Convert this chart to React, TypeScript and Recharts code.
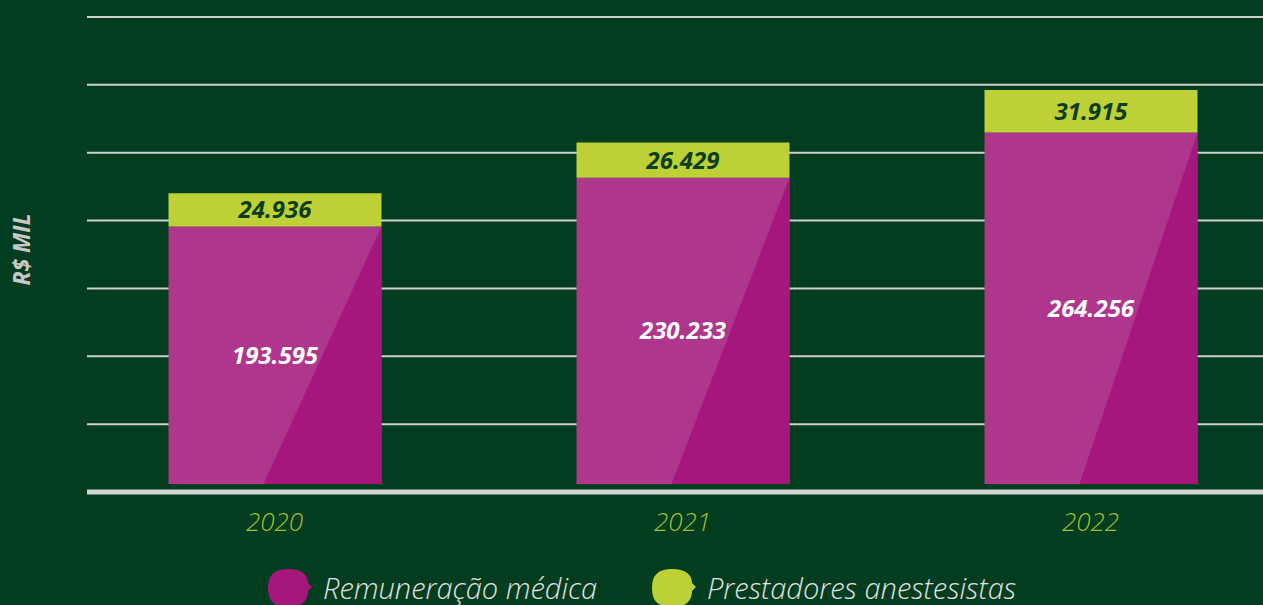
import { BarChart, Bar, XAxis, YAxis, CartesianGrid, LabelList } from 'recharts';

const years = ['2020', '2021', '2022'];
const remuneracao = [193.595, 230.233, 264.256];
const prestadores = [24.936, 26.429, 31.915];
const gridTicks = [-6, 45, 96, 147, 198, 249, 300, 351];

const BG = '#013d1e';
const PURPLE = '#ae368c';
const PURPLE_DARK = '#a6177e';
const LIME = '#bdd035';
const FONT = '"Open Sans", "Noto Sans", sans-serif';

const data = years.map((year, i) => ({
  year,
  remuneracao: remuneracao[i],
  prestadores: prestadores[i],
}));

const fmt = (v: number) => v.toFixed(3);

function PurpleShape(props: any) {
  const { x, y, width, height } = props;
  if (!height || height <= 0) return null;
  const bottom = y + height;
  return (
    <g>
      <rect x={x} y={y} width={width} height={height} fill={PURPLE} />
      <polygon
        points={`${x + width * 0.446},${bottom} ${x + width},${y} ${x + width},${bottom}`}
        fill={PURPLE_DARK}
      />
    </g>
  );
}

function AxisTitle(props: any) {
  const vb = props.viewBox || { x: 0, y: 17, width: 87, height: 475 };
  const cx = 30;
  const cy = vb.y + vb.height / 2 - 5;
  return (
    <text
      x={cx}
      y={cy}
      transform={`rotate(-90, ${cx}, ${cy})`}
      textAnchor="middle"
      fill="#c8c8c8"
      fontSize={23}
      fontWeight={700}
      fontStyle="italic"
      fontFamily={FONT}
    >
      R$ MIL
    </text>
  );
}

function Blob({ color }: { color: string }) {
  return (
    <svg width={46} height={40} style={{ display: 'block' }}>
      <path
        d="M20 2 C34 2 40 8 40 16 L44 20 L40 24 C40 34 34 40 20 40 C6 40 0 34 0 21 C0 8 6 2 20 2 Z"
        fill={color}
      />
    </svg>
  );
}

export default function App() {
  return (
    <div
      style={{
        position: 'fixed', left: 0, top: 0, width: 1263, height: 605,
        background: BG, overflow: 'hidden', fontFamily: FONT,
      }}
    >
      <BarChart
        width={1263}
        height={560}
        data={data}
        margin={{ top: 17, right: 0, left: 0, bottom: 0 }}
        barSize={213}
      >
        <CartesianGrid vertical={false} stroke="#d0d0d0" strokeWidth={2} />
        <YAxis
          width={87}
          domain={[-6, 351]}
          ticks={gridTicks}
          interval={0}
          tick={() => <g />}
          axisLine={false}
          tickLine={false}
          label={<AxisTitle />}
        />
        <XAxis
          dataKey="year"
          height={68}
          padding={{ left: -16.5, right: -31.5 }}
          axisLine={{ stroke: '#d4d4d4', strokeWidth: 5 }}
          tickLine={false}
          tick={{ fill: '#a3bf2c', fontSize: 26, fontStyle: 'italic', fontWeight: 300, fontFamily: FONT }}
          tickMargin={15}
        />
        <Bar dataKey="remuneracao" stackId="a" shape={PurpleShape} isAnimationActive={false}>
          <LabelList
            dataKey="remuneracao"
            position="center"
            formatter={(v: any) => fmt(Number(v))}
            style={{ fill: '#ffffff', fontSize: 24, fontWeight: 700, fontStyle: 'italic', fontFamily: FONT }}
          />
        </Bar>
        <Bar dataKey="prestadores" stackId="a" fill={LIME} isAnimationActive={false}>
          <LabelList
            dataKey="prestadores"
            position="center"
            formatter={(v: any) => fmt(Number(v))}
            style={{ fill: '#0b3d1a', fontSize: 24, fontWeight: 700, fontStyle: 'italic', fontFamily: FONT }}
          />
        </Bar>
      </BarChart>
      <div
        style={{
          position: 'absolute', top: 567, left: 268, display: 'flex', alignItems: 'center',
          color: '#e2e2e2', fontSize: 29, fontStyle: 'italic', fontWeight: 300, whiteSpace: 'nowrap',
        }}
      >
        <Blob color={PURPLE_DARK} />
        <span style={{ marginLeft: 9, width: 329 }}>Remuneração médica</span>
        <Blob color={LIME} />
        <span style={{ marginLeft: 9 }}>Prestadores anestesistas</span>
      </div>
    </div>
  );
}
